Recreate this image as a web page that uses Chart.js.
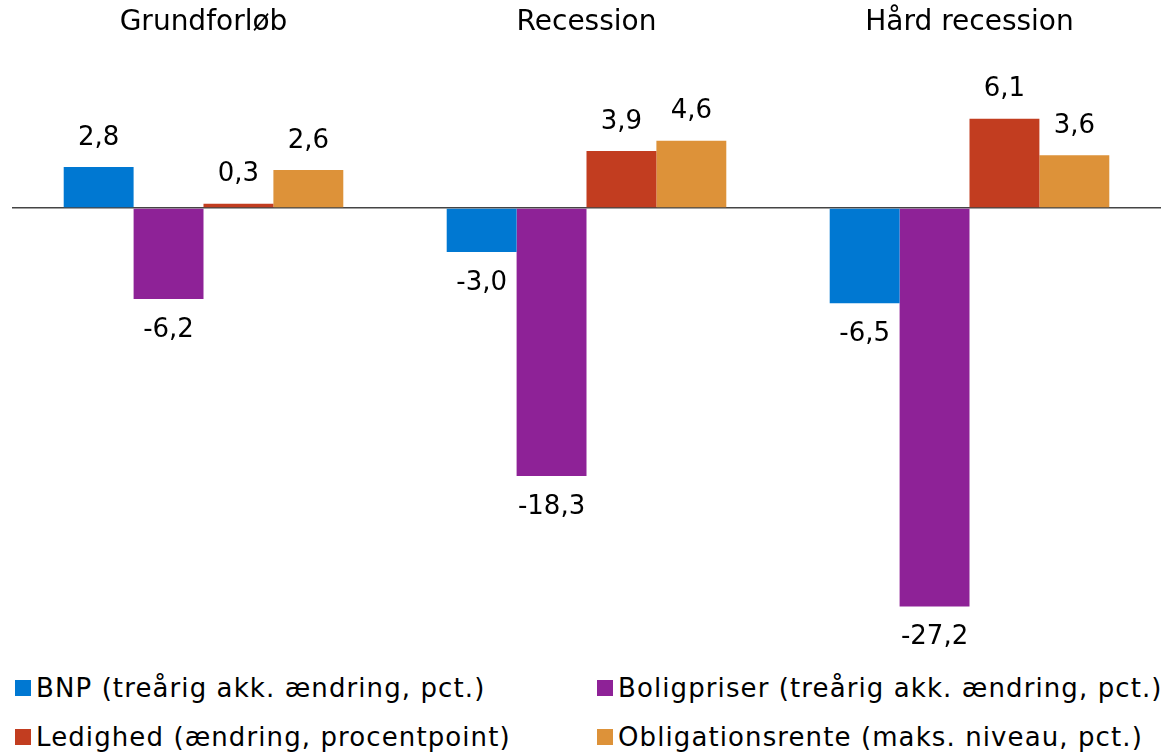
<!DOCTYPE html>
<html>
<head>
<meta charset="utf-8">
<script src="https://cdn.jsdelivr.net/npm/chart.js@4/dist/chart.umd.min.js"></script>
<style>
  body { margin: 0; background: #fff; font-family: "DejaVu Sans", sans-serif; }
  #wrap { position: relative; width: 1170px; height: 660px; }
  #legend { position: relative; width: 1170px; height: 93px; }
  .item { position: absolute; font-size: 26px; letter-spacing: 1.1px; color: #000; white-space: nowrap; line-height: 30px; }
  .item span.box { position: absolute; left: 0; top: 7px; width: 16px; height: 16px; }
  .item span.txt { position: absolute; left: 21px; top: 0; }
</style>
</head>
<body>
<div id="wrap"><canvas id="chart"></canvas></div>
<div id="legend"></div>
<script>
var categories = ['Grundforløb', 'Recession', 'Hård recession'];
var seriesNames = [
    'BNP (treårig akk. ændring, pct.)',
    'Boligpriser (treårig akk. ændring, pct.)',
    'Ledighed (ændring, procentpoint)',
    'Obligationsrente (maks. niveau, pct.)'
];
var bnp = [2.8, -3.0, -6.5];
var boligpriser = [-6.2, -18.3, -27.2];
var ledighed = [0.3, 3.9, 6.1];
var obligationsrente = [2.6, 4.6, 3.6];

var colors = ['#0078d2', '#8e2297', '#c23d20', '#dd9239'];
var values = [bnp, boligpriser, ledighed, obligationsrente];
var fontName = 'DejaVu Sans';

// value labels above / below every bar
var barLabels = {
    id: 'barLabels',
    afterDatasetsDraw: function(chart) {
        var ctx = chart.ctx;
        ctx.save();
        ctx.font = '26px "' + fontName + '"';
        ctx.fillStyle = '#000';
        ctx.textAlign = 'center';
        ctx.textBaseline = 'middle';
        chart.data.datasets.forEach(function(ds, i) {
            var meta = chart.getDatasetMeta(i);
            meta.data.forEach(function(bar, j) {
                var v = ds.data[j];
                var txt = v.toFixed(1).replace('.', ',');
                var y = v >= 0 ? bar.y - 29 : bar.y + 31;
                ctx.fillText(txt, bar.x, y);
            });
        });
        ctx.restore();
    }
};

var datasets = values.map(function(v, i) {
    return {
        label: seriesNames[i],
        data: v,
        backgroundColor: colors[i],
        borderWidth: 0,
        categoryPercentage: 0.73,
        barPercentage: 1.0
    };
});

new Chart(document.getElementById('chart'), {
    type: 'bar',
    data: { labels: categories, datasets: datasets },
    options: {
        responsive: true,
        maintainAspectRatio: false,
        animation: false,
        layout: { padding: { top: 1.5, left: 12, right: 9, bottom: 12.5 } },
        plugins: { legend: { display: false }, tooltip: { enabled: false } },
        scales: {
            x: {
                position: 'top',
                grid: { display: false, drawTicks: false },
                border: { display: false },
                ticks: { padding: 4.45, color: '#000', font: { family: fontName, size: 28 } }
            },
            y: {
                min: -30,
                max: 11.2,
                ticks: { display: false, stepSize: 10 },
                border: { display: false },
                grid: {
                    drawTicks: false,
                    lineWidth: 1.5,
                    color: function(c) { return c.tick && c.tick.value === 0 ? '#444' : 'rgba(0,0,0,0)'; }
                }
            }
        }
    },
    plugins: [barLabels]
});

// legend in two columns
var legend = document.getElementById('legend');
var pos = [[15, 13], [597, 13], [15, 62], [597, 62]];
seriesNames.forEach(function(name, i) {
    var d = document.createElement('div');
    d.className = 'item';
    d.style.left = pos[i][0] + 'px';
    d.style.top = pos[i][1] + 'px';
    d.innerHTML = '<span class="box" style="background:' + colors[i] + '"></span><span class="txt">' + name + '</span>';
    legend.appendChild(d);
});
</script>
</body>
</html>
